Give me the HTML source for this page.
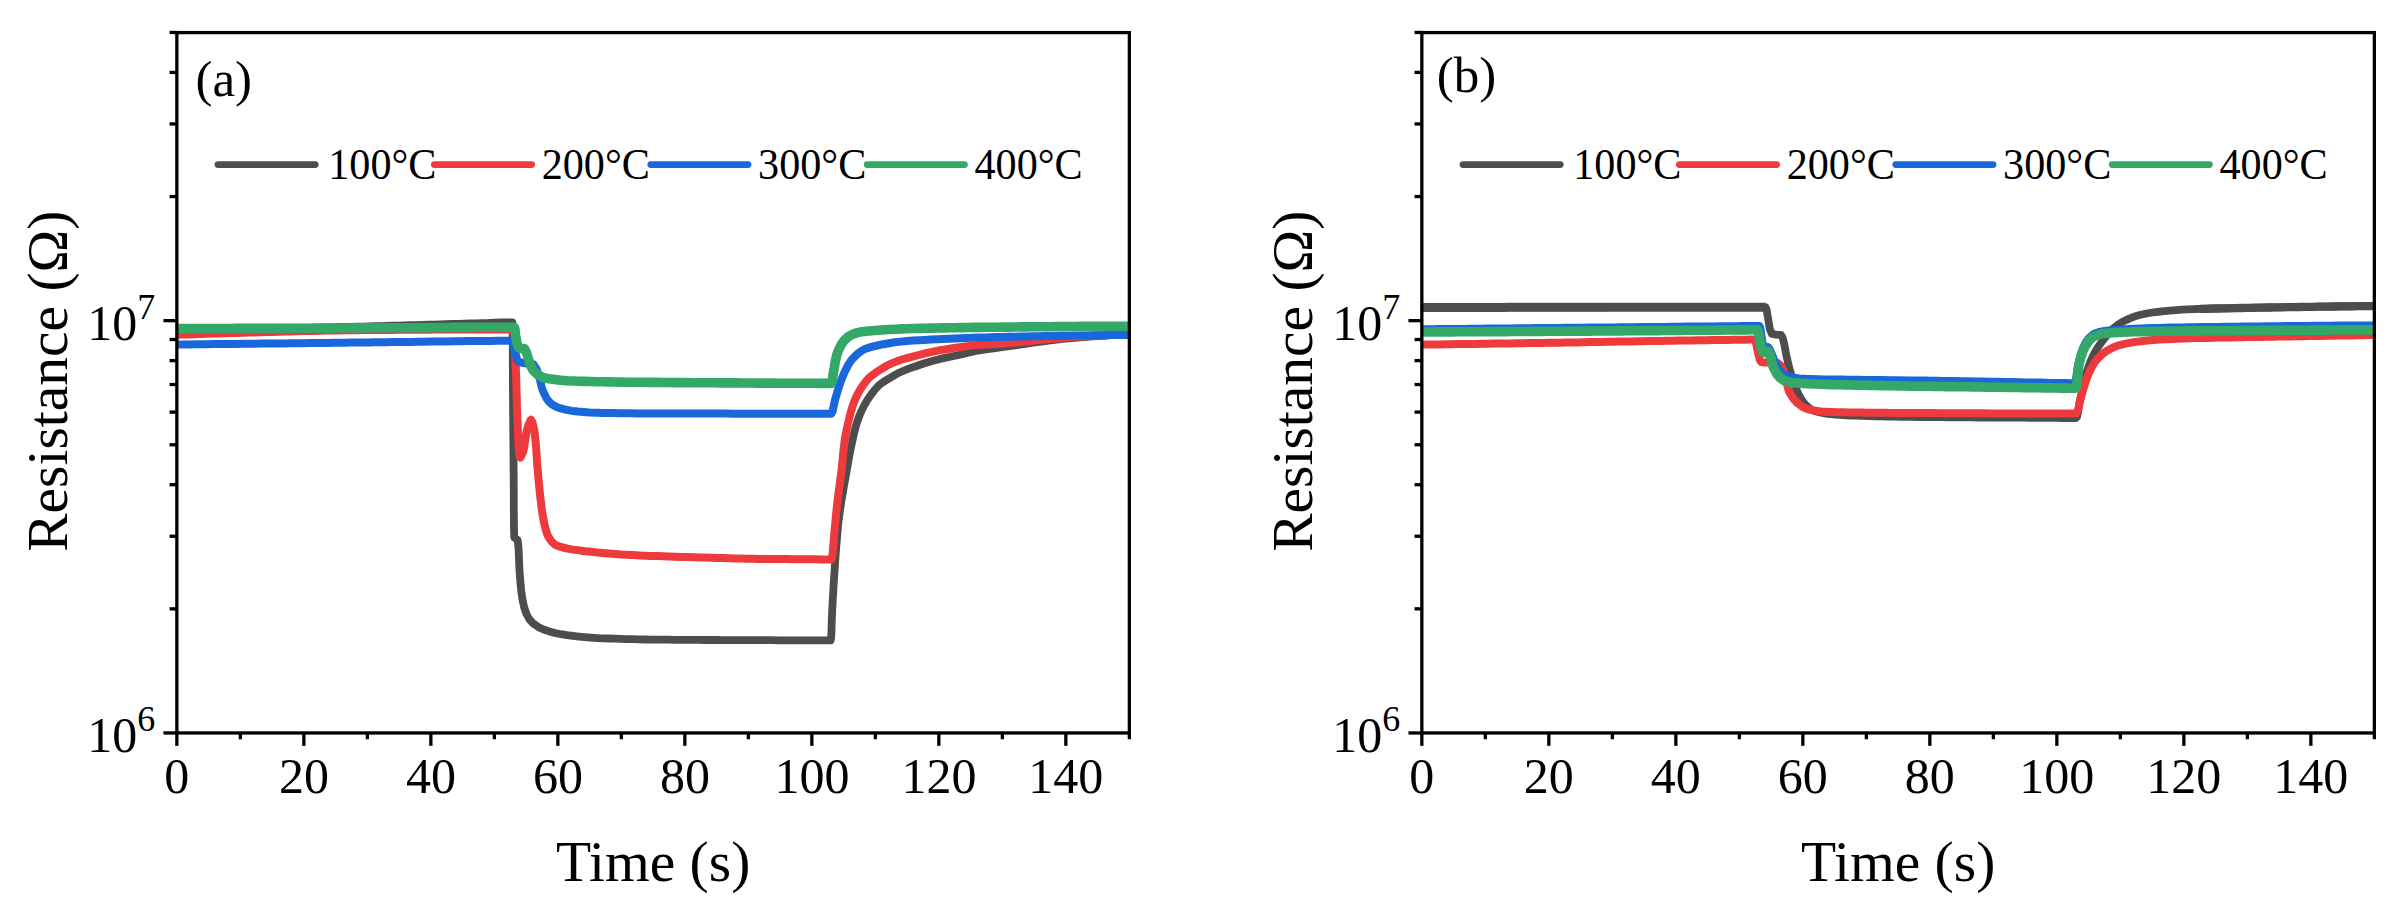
<!DOCTYPE html>
<html lang="en"><head><meta charset="utf-8"><title>Resistance vs Time</title>
<style>html,body{margin:0;padding:0;background:#fff}svg{display:block}</style></head>
<body>
<svg width="2403" height="920" viewBox="0 0 2403 920" font-family="'Liberation Serif', serif" fill="#000">
<rect width="2403" height="920" fill="#fff"/>
<clipPath id="ca"><rect x="176.85" y="32.6" width="952.4999999999999" height="700.35"/></clipPath>
<g clip-path="url(#ca)" fill="none" stroke-linejoin="round" stroke-linecap="butt">
<path d="M177.0,331.0 L183.0,330.9 L189.0,330.7 L195.0,330.6 L201.0,330.5 L206.9,330.4 L212.9,330.2 L218.9,330.1 L224.9,330.0 L230.9,329.8 L236.9,329.7 L242.9,329.5 L248.9,329.4 L254.8,329.3 L260.8,329.1 L266.8,329.0 L272.8,328.8 L278.8,328.7 L284.8,328.5 L290.8,328.4 L296.8,328.3 L302.7,328.1 L308.7,328.0 L314.7,327.8 L320.7,327.7 L326.7,327.5 L327.0,327.5 L332.7,327.4 L338.7,327.2 L344.7,327.0 L350.7,326.9 L356.6,326.7 L362.6,326.6 L368.6,326.4 L374.6,326.2 L380.6,326.1 L386.6,325.9 L392.6,325.7 L398.6,325.6 L404.5,325.4 L410.5,325.2 L416.5,325.1 L422.5,324.9 L428.5,324.7 L434.5,324.6 L440.0,324.4 L440.5,324.4 L446.4,324.2 L452.4,324.0 L458.4,323.9 L464.4,323.7 L470.4,323.5 L476.4,323.3 L482.4,323.1 L488.4,323.0 L490.0,322.9 L494.3,322.7 L500.3,322.5 L505.0,322.4 L506.5,322.4 L512.3,322.4 L512.3,322.4 L512.4,323.3 L512.5,325.8 L512.6,329.8 L512.7,334.9 L512.7,341.1 L512.8,348.0 L512.8,355.5 L512.8,363.3 L512.9,371.3 L512.9,379.2 L512.9,386.8 L513.0,393.9 L513.0,400.0 L513.0,400.3 L513.1,406.3 L513.1,412.2 L513.2,418.2 L513.2,424.2 L513.3,430.2 L513.3,436.2 L513.4,442.2 L513.4,448.2 L513.5,454.2 L513.5,460.2 L513.6,466.2 L513.6,472.1 L513.7,478.1 L513.7,480.0 L513.7,484.2 L513.8,490.5 L513.8,496.9 L513.8,503.4 L513.8,509.8 L513.9,516.1 L513.9,522.1 L514.0,527.8 L514.1,533.1 L514.2,537.0 L514.6,537.7 L517.6,540.0 L517.9,542.0 L518.5,547.4 L518.8,553.4 L519.0,559.8 L519.3,566.2 L519.6,572.0 L519.6,572.4 L520.1,578.4 L520.6,584.4 L521.2,590.4 L522.0,596.3 L522.8,601.3 L523.0,602.1 L524.4,608.1 L526.5,614.0 L529.2,619.0 L529.3,619.2 L533.0,623.3 L538.2,626.9 L542.4,629.0 L543.6,629.5 L549.2,631.4 L555.0,633.0 L561.0,634.2 L565.2,634.9 L566.9,635.2 L572.9,635.9 L578.8,636.6 L584.8,637.2 L590.8,637.7 L596.8,638.1 L597.8,638.1 L602.8,638.3 L608.7,638.5 L614.7,638.7 L620.7,638.9 L626.7,639.1 L632.7,639.2 L638.7,639.4 L644.7,639.5 L650.7,639.6 L656.6,639.6 L662.6,639.7 L663.0,639.7 L668.6,639.7 L674.6,639.8 L680.6,639.8 L686.6,639.9 L692.6,639.9 L698.6,639.9 L704.6,640.0 L710.6,640.0 L716.5,640.0 L722.5,640.1 L728.5,640.1 L734.5,640.1 L740.5,640.1 L746.5,640.2 L752.5,640.2 L758.5,640.2 L760.0,640.2 L764.7,640.2 L771.7,640.2 L779.1,640.3 L786.9,640.3 L794.6,640.3 L802.2,640.3 L809.4,640.3 L815.9,640.4 L821.5,640.4 L826.0,640.4 L829.1,640.4 L830.6,640.4 L830.6,640.4 L831.0,638.4 L831.4,633.1 L831.6,625.8 L831.9,617.9 L832.2,610.8 L832.2,610.0 L832.5,604.8 L832.8,598.8 L833.2,592.8 L833.5,586.8 L833.9,580.8 L834.3,574.9 L834.4,573.3 L834.7,568.9 L835.1,562.9 L835.5,556.9 L835.9,551.0 L836.4,545.0 L836.9,539.0 L837.4,533.0 L837.9,527.1 L838.5,521.6 L838.6,521.1 L839.3,515.2 L840.1,509.3 L841.0,503.3 L842.0,497.4 L843.0,491.5 L844.0,485.6 L845.1,479.7 L846.2,473.8 L846.3,473.0 L847.2,467.9 L848.2,462.0 L849.3,456.1 L850.4,450.2 L851.6,444.4 L852.9,438.5 L853.1,437.5 L854.2,432.7 L855.7,426.8 L857.4,421.1 L857.6,420.5 L859.5,415.5 L861.9,410.0 L864.2,405.5 L864.6,404.7 L867.7,399.5 L870.7,395.1 L871.1,394.6 L874.7,389.8 L878.8,385.4 L879.0,385.2 L883.5,381.8 L888.7,378.7 L890.3,377.7 L893.8,375.6 L899.1,372.7 L899.1,372.7 L904.5,370.3 L910.1,368.2 L915.8,366.2 L918.7,365.2 L921.5,364.3 L927.2,362.5 L933.0,360.8 L938.2,359.4 L938.8,359.3 L944.6,357.9 L950.5,356.7 L956.3,355.5 L957.8,355.2 L962.2,354.2 L968.0,352.7 L973.8,351.4 L977.4,350.7 L979.7,350.3 L985.6,349.4 L991.6,348.6 L997.5,347.8 L1000.0,347.5 L1003.4,347.0 L1009.4,346.2 L1015.3,345.3 L1021.2,344.4 L1027.2,343.6 L1033.1,342.7 L1039.0,341.9 L1045.0,341.1 L1050.0,340.5 L1050.9,340.4 L1056.8,339.7 L1062.8,339.0 L1068.8,338.4 L1074.7,337.8 L1080.0,337.3 L1080.7,337.2 L1086.7,336.8 L1092.6,336.3 L1098.6,335.9 L1100.0,335.8 L1104.6,335.5 L1110.6,335.1 L1116.5,334.8 L1122.5,334.5 L1128.5,334.2" stroke="#4d4d4d" stroke-width="7.8"/>
<path d="M177.0,334.8 L183.0,334.6 L189.0,334.4 L194.9,334.2 L200.9,334.0 L206.9,333.8 L212.9,333.6 L218.9,333.5 L224.9,333.3 L230.8,333.1 L236.8,332.9 L242.8,332.8 L248.8,332.6 L254.8,332.4 L260.0,332.3 L260.8,332.3 L266.7,332.1 L272.7,332.0 L278.7,331.8 L284.7,331.6 L290.7,331.5 L296.7,331.3 L302.6,331.1 L308.6,331.0 L314.6,330.9 L320.6,330.7 L326.6,330.6 L332.6,330.5 L338.5,330.4 L340.0,330.4 L344.5,330.3 L350.5,330.3 L356.5,330.2 L362.5,330.1 L368.5,330.1 L374.4,330.0 L380.4,330.0 L386.4,329.9 L392.4,329.9 L398.4,329.8 L404.4,329.8 L410.4,329.8 L416.3,329.7 L420.0,329.7 L422.4,329.7 L428.9,329.7 L435.9,329.6 L443.4,329.6 L451.0,329.6 L458.8,329.6 L466.5,329.5 L474.1,329.5 L481.4,329.5 L488.2,329.5 L494.5,329.4 L500.2,329.4 L505.0,329.4 L508.9,329.4 L511.7,329.4 L513.3,329.4 L513.5,329.4 L513.9,330.7 L514.4,335.4 L514.8,342.4 L515.1,350.3 L515.4,357.7 L515.5,360.0 L515.7,363.8 L515.9,369.8 L516.1,375.8 L516.3,381.8 L516.4,387.8 L516.6,393.8 L516.8,399.7 L516.9,405.7 L517.1,411.7 L517.4,417.7 L517.5,420.0 L517.7,424.0 L517.9,431.5 L518.2,439.4 L518.6,446.8 L519.1,452.9 L519.7,456.7 L520.3,457.5 L521.0,456.6 L523.0,452.0 L523.5,450.3 L524.6,444.4 L525.4,438.4 L526.4,432.5 L527.0,430.0 L528.1,426.1 L530.5,420.2 L531.0,419.8 L532.4,422.2 L534.1,429.5 L534.5,432.0 L535.0,435.6 L535.6,441.5 L536.1,447.5 L536.5,453.5 L536.9,459.5 L537.3,465.5 L537.5,467.6 L537.9,471.5 L538.4,477.4 L538.9,483.4 L539.5,489.4 L540.1,495.3 L540.8,501.3 L541.5,507.2 L542.4,513.1 L542.4,513.2 L543.4,519.1 L544.6,525.1 L546.1,530.9 L547.3,534.4 L548.1,536.3 L551.6,541.6 L555.4,544.9 L556.0,545.2 L561.7,547.2 L565.0,548.0 L567.6,548.6 L573.5,549.6 L579.5,550.4 L581.5,550.7 L585.4,551.2 L591.3,551.8 L597.3,552.4 L603.3,553.0 L609.2,553.6 L615.2,554.0 L621.2,554.5 L627.1,554.8 L630.4,555.0 L633.1,555.1 L639.1,555.4 L645.1,555.7 L651.0,555.9 L657.0,556.1 L663.0,556.3 L669.0,556.5 L675.0,556.7 L681.0,556.9 L686.9,557.1 L692.9,557.2 L695.6,557.3 L698.9,557.4 L704.9,557.6 L710.9,557.8 L716.9,557.9 L722.8,558.1 L728.8,558.3 L734.8,558.4 L740.8,558.6 L746.8,558.7 L752.8,558.8 L758.7,558.9 L760.8,558.9 L764.9,558.9 L771.7,559.0 L779.0,559.1 L786.5,559.1 L794.1,559.2 L801.5,559.2 L808.6,559.3 L815.1,559.3 L820.8,559.4 L825.5,559.4 L829.0,559.4 L831.1,559.4 L831.2,559.4 L832.1,557.5 L832.8,552.1 L833.4,544.6 L834.0,536.8 L834.4,532.0 L834.6,530.3 L835.2,524.4 L835.7,518.4 L836.3,512.4 L836.9,506.5 L837.5,501.0 L837.6,500.5 L838.3,494.6 L839.1,488.7 L839.9,482.7 L840.7,476.8 L841.5,470.9 L841.6,470.0 L842.1,464.9 L842.7,458.9 L843.2,453.0 L843.9,447.0 L844.6,441.1 L844.6,441.0 L845.5,435.2 L846.7,429.3 L848.0,423.5 L849.4,417.6 L849.8,416.0 L850.9,411.8 L852.6,406.1 L854.7,400.5 L855.0,399.6 L857.1,395.0 L860.1,389.8 L861.5,387.6 L863.4,384.8 L867.1,380.0 L869.4,377.5 L871.2,375.9 L876.1,372.4 L879.0,370.5 L881.2,369.1 L886.3,366.0 L890.3,364.0 L891.7,363.4 L897.3,361.1 L899.1,360.5 L902.9,359.3 L908.7,357.6 L914.5,356.1 L918.7,355.0 L920.3,354.6 L926.1,353.1 L931.9,351.8 L937.8,350.6 L938.2,350.5 L943.7,349.6 L949.6,348.7 L955.5,347.8 L957.8,347.5 L961.5,347.0 L967.4,346.1 L973.3,345.4 L977.4,345.0 L979.3,344.9 L985.2,344.5 L991.2,344.3 L997.2,344.0 L1000.0,343.8 L1003.2,343.6 L1009.1,343.1 L1015.1,342.5 L1021.1,341.9 L1027.0,341.3 L1033.0,340.7 L1038.9,340.1 L1044.9,339.5 L1050.0,339.0 L1050.8,338.9 L1056.8,338.4 L1062.8,337.9 L1068.7,337.4 L1074.7,337.0 L1080.0,336.6 L1080.7,336.6 L1086.6,336.2 L1092.6,335.8 L1098.6,335.5 L1100.0,335.4 L1104.6,335.2 L1110.6,335.0 L1116.5,334.7 L1122.5,334.5 L1128.5,334.4" stroke="#ee3a3c" stroke-width="8"/>
<path d="M177.0,344.5 L183.0,344.4 L189.0,344.4 L195.0,344.3 L201.0,344.3 L207.0,344.2 L213.0,344.1 L218.9,344.1 L224.9,344.0 L230.9,344.0 L236.9,343.9 L242.9,343.8 L248.9,343.8 L254.9,343.7 L260.9,343.6 L266.9,343.6 L272.9,343.5 L278.9,343.4 L284.9,343.4 L290.8,343.3 L296.8,343.2 L300.0,343.2 L302.8,343.2 L308.8,343.1 L314.8,343.0 L320.8,343.0 L326.8,342.9 L332.8,342.8 L338.8,342.7 L344.8,342.7 L350.8,342.6 L356.8,342.5 L362.7,342.5 L368.7,342.4 L374.7,342.3 L380.7,342.2 L386.7,342.2 L392.7,342.1 L398.7,342.0 L400.0,342.0 L404.8,341.9 L411.2,341.9 L417.9,341.8 L424.8,341.7 L431.9,341.6 L439.0,341.5 L446.2,341.4 L453.3,341.3 L460.4,341.2 L467.3,341.1 L473.9,341.1 L480.3,341.0 L486.3,340.9 L492.0,340.9 L497.1,340.8 L501.8,340.8 L505.8,340.7 L509.2,340.7 L511.5,340.7 L511.9,340.9 L513.7,346.9 L514.5,350.0 L515.4,353.4 L517.2,359.7 L518.5,361.5 L521.0,362.5 L525.0,363.3 L527.4,363.5 L533.0,364.0 L533.2,364.1 L536.4,368.7 L538.0,373.0 L538.6,374.8 L540.1,380.6 L541.5,386.5 L542.4,389.3 L543.5,392.2 L546.1,397.6 L547.0,399.0 L549.7,402.4 L552.2,404.5 L554.5,405.9 L558.0,407.5 L560.1,408.2 L565.2,409.6 L565.9,409.7 L571.8,410.9 L575.0,411.3 L577.7,411.6 L583.7,412.1 L589.7,412.5 L595.7,412.7 L597.8,412.8 L601.6,412.9 L607.6,413.0 L613.6,413.1 L619.6,413.2 L625.6,413.2 L631.6,413.3 L637.6,413.4 L643.6,413.4 L649.6,413.5 L655.6,413.5 L661.6,413.5 L667.6,413.6 L673.5,413.6 L679.5,413.6 L680.0,413.6 L685.7,413.6 L692.0,413.6 L698.7,413.6 L705.5,413.6 L712.5,413.6 L719.6,413.6 L726.8,413.6 L734.0,413.7 L741.3,413.7 L748.6,413.7 L755.7,413.7 L762.9,413.7 L769.8,413.7 L776.7,413.7 L783.3,413.7 L789.7,413.7 L795.8,413.7 L801.6,413.7 L807.0,413.7 L812.1,413.7 L816.8,413.7 L821.0,413.7 L824.7,413.7 L827.9,413.7 L830.6,413.7 L831.3,413.7 L832.5,411.7 L834.0,404.6 L834.8,400.9 L835.5,398.3 L837.2,392.5 L838.9,386.7 L839.4,385.3 L840.9,381.1 L843.1,375.5 L844.6,372.2 L845.6,370.1 L848.4,364.7 L851.1,360.5 L851.7,359.8 L855.8,355.4 L857.6,353.9 L860.5,351.6 L864.2,349.4 L865.7,348.8 L871.4,346.9 L877.2,345.5 L877.3,345.5 L883.1,344.2 L889.1,343.2 L890.3,343.0 L895.0,342.3 L900.9,341.6 L905.0,341.2 L906.9,341.0 L912.9,340.6 L918.8,340.2 L924.8,339.9 L930.8,339.6 L936.8,339.3 L938.2,339.2 L942.8,339.0 L948.8,338.7 L954.8,338.4 L960.8,338.2 L966.7,338.0 L972.7,337.7 L977.4,337.6 L978.7,337.6 L984.7,337.4 L990.7,337.2 L996.7,337.1 L1002.7,336.9 L1008.7,336.8 L1014.7,336.7 L1020.7,336.5 L1026.6,336.4 L1032.6,336.3 L1038.6,336.2 L1044.6,336.1 L1050.0,336.0 L1050.6,336.0 L1056.6,335.9 L1062.6,335.8 L1068.6,335.7 L1074.6,335.6 L1080.6,335.5 L1086.6,335.4 L1092.5,335.3 L1098.5,335.2 L1104.5,335.2 L1110.5,335.1 L1116.5,335.0 L1122.5,335.0 L1128.5,334.9" stroke="#1868dc" stroke-width="8"/>
<path d="M177.0,328.6 L183.0,328.6 L188.9,328.6 L194.9,328.6 L200.9,328.5 L206.8,328.5 L212.8,328.5 L218.8,328.5 L224.7,328.5 L230.7,328.5 L236.7,328.4 L242.6,328.4 L248.6,328.4 L254.6,328.4 L260.5,328.3 L266.5,328.3 L272.5,328.3 L278.4,328.3 L284.4,328.3 L290.4,328.2 L296.4,328.2 L300.0,328.2 L302.3,328.2 L308.3,328.2 L314.3,328.1 L320.2,328.1 L326.2,328.1 L332.2,328.1 L338.1,328.0 L344.1,328.0 L350.1,328.0 L356.0,327.9 L362.0,327.9 L368.0,327.9 L373.9,327.8 L379.9,327.8 L385.9,327.8 L391.8,327.7 L397.8,327.7 L400.0,327.7 L403.9,327.7 L410.3,327.7 L417.1,327.6 L424.2,327.6 L431.5,327.6 L438.9,327.5 L446.4,327.5 L453.9,327.4 L461.3,327.4 L468.5,327.4 L475.4,327.3 L482.1,327.3 L488.3,327.3 L494.1,327.3 L499.3,327.2 L503.9,327.2 L507.9,327.2 L511.0,327.2 L513.4,327.2 L514.2,327.2 L514.8,328.6 L515.6,335.7 L516.0,338.0 L516.7,342.3 L518.5,347.5 L518.5,347.5 L521.0,348.5 L524.4,348.5 L524.4,348.5 L526.7,353.1 L528.0,358.0 L528.6,359.6 L530.6,365.4 L532.6,369.5 L533.3,370.5 L537.8,374.6 L540.0,376.0 L543.0,377.4 L546.0,378.3 L548.8,378.8 L554.8,379.6 L555.0,379.6 L560.7,380.2 L566.7,380.7 L572.6,381.0 L573.0,381.0 L578.6,381.2 L584.5,381.4 L590.5,381.5 L596.5,381.7 L602.4,381.8 L608.4,381.9 L614.4,382.0 L620.4,382.1 L626.3,382.2 L630.0,382.2 L632.3,382.2 L638.3,382.3 L644.2,382.3 L650.2,382.4 L656.2,382.4 L662.1,382.5 L668.1,382.5 L674.1,382.6 L680.0,382.6 L680.0,382.6 L686.2,382.6 L692.6,382.7 L699.3,382.7 L706.2,382.8 L713.3,382.8 L720.6,382.9 L727.9,382.9 L735.3,382.9 L742.7,383.0 L750.1,383.0 L757.4,383.1 L764.7,383.1 L771.7,383.1 L778.6,383.2 L785.3,383.2 L791.7,383.2 L797.8,383.3 L803.6,383.3 L808.9,383.3 L813.9,383.3 L818.3,383.4 L822.3,383.4 L825.7,383.4 L828.5,383.4 L830.7,383.4 L831.3,383.4 L832.2,381.2 L833.2,373.9 L833.5,372.2 L834.3,367.8 L835.2,361.9 L836.5,356.1 L836.7,355.2 L838.4,350.5 L841.0,345.1 L842.0,343.5 L844.5,340.2 L848.5,336.5 L848.9,336.2 L854.3,333.6 L857.6,332.6 L860.1,332.1 L865.9,331.3 L871.9,330.7 L877.2,330.3 L877.9,330.2 L883.9,329.8 L889.8,329.5 L895.8,329.2 L901.8,328.9 L905.0,328.8 L907.7,328.7 L913.7,328.5 L919.6,328.4 L925.6,328.2 L931.6,328.1 L937.5,328.0 L943.5,327.9 L949.5,327.8 L955.4,327.7 L961.4,327.6 L967.4,327.5 L973.3,327.4 L977.4,327.4 L979.3,327.4 L985.3,327.3 L991.2,327.2 L997.2,327.2 L1003.2,327.1 L1009.1,327.1 L1015.1,327.0 L1021.1,326.9 L1027.1,326.9 L1033.0,326.8 L1039.0,326.8 L1045.0,326.7 L1050.9,326.7 L1056.9,326.6 L1062.9,326.6 L1068.8,326.5 L1074.8,326.5 L1080.8,326.4 L1086.7,326.4 L1092.7,326.4 L1098.7,326.4 L1104.6,326.3 L1110.6,326.3 L1116.6,326.3 L1122.5,326.3 L1128.5,326.3" stroke="#33a867" stroke-width="9.6"/>
</g>
<rect x="176.85" y="32.6" width="952.4999999999999" height="700.35" fill="none" stroke="#000" stroke-width="3.3"/>
<line x1="176.85" y1="732.95" x2="176.85" y2="745.85" stroke="#000" stroke-width="3.3"/>
<line x1="240.35" y1="732.95" x2="240.35" y2="739.25" stroke="#000" stroke-width="3.3"/>
<line x1="303.85" y1="732.95" x2="303.85" y2="745.85" stroke="#000" stroke-width="3.3"/>
<line x1="367.35" y1="732.95" x2="367.35" y2="739.25" stroke="#000" stroke-width="3.3"/>
<line x1="430.85" y1="732.95" x2="430.85" y2="745.85" stroke="#000" stroke-width="3.3"/>
<line x1="494.35" y1="732.95" x2="494.35" y2="739.25" stroke="#000" stroke-width="3.3"/>
<line x1="557.85" y1="732.95" x2="557.85" y2="745.85" stroke="#000" stroke-width="3.3"/>
<line x1="621.35" y1="732.95" x2="621.35" y2="739.25" stroke="#000" stroke-width="3.3"/>
<line x1="684.85" y1="732.95" x2="684.85" y2="745.85" stroke="#000" stroke-width="3.3"/>
<line x1="748.35" y1="732.95" x2="748.35" y2="739.25" stroke="#000" stroke-width="3.3"/>
<line x1="811.85" y1="732.95" x2="811.85" y2="745.85" stroke="#000" stroke-width="3.3"/>
<line x1="875.35" y1="732.95" x2="875.35" y2="739.25" stroke="#000" stroke-width="3.3"/>
<line x1="938.85" y1="732.95" x2="938.85" y2="745.85" stroke="#000" stroke-width="3.3"/>
<line x1="1002.35" y1="732.95" x2="1002.35" y2="739.25" stroke="#000" stroke-width="3.3"/>
<line x1="1065.85" y1="732.95" x2="1065.85" y2="745.85" stroke="#000" stroke-width="3.3"/>
<line x1="1129.35" y1="732.95" x2="1129.35" y2="739.25" stroke="#000" stroke-width="3.3"/>
<line x1="176.85" y1="732.95" x2="163.45" y2="732.95" stroke="#000" stroke-width="3.3"/>
<line x1="176.85" y1="608.84" x2="169.54999999999998" y2="608.84" stroke="#000" stroke-width="3.3"/>
<line x1="176.85" y1="536.23" x2="169.54999999999998" y2="536.23" stroke="#000" stroke-width="3.3"/>
<line x1="176.85" y1="484.72" x2="169.54999999999998" y2="484.72" stroke="#000" stroke-width="3.3"/>
<line x1="176.85" y1="444.76" x2="169.54999999999998" y2="444.76" stroke="#000" stroke-width="3.3"/>
<line x1="176.85" y1="412.12" x2="169.54999999999998" y2="412.12" stroke="#000" stroke-width="3.3"/>
<line x1="176.85" y1="384.52" x2="169.54999999999998" y2="384.52" stroke="#000" stroke-width="3.3"/>
<line x1="176.85" y1="360.61" x2="169.54999999999998" y2="360.61" stroke="#000" stroke-width="3.3"/>
<line x1="176.85" y1="339.52" x2="169.54999999999998" y2="339.52" stroke="#000" stroke-width="3.3"/>
<line x1="176.85" y1="320.65" x2="163.45" y2="320.65" stroke="#000" stroke-width="3.3"/>
<line x1="176.85" y1="196.54" x2="169.54999999999998" y2="196.54" stroke="#000" stroke-width="3.3"/>
<line x1="176.85" y1="123.93" x2="169.54999999999998" y2="123.93" stroke="#000" stroke-width="3.3"/>
<line x1="176.85" y1="72.42" x2="169.54999999999998" y2="72.42" stroke="#000" stroke-width="3.3"/>
<line x1="176.85" y1="32.46" x2="169.54999999999998" y2="32.46" stroke="#000" stroke-width="3.3"/>
<text x="176.8" y="793.3" font-size="50" text-anchor="middle">0</text>
<text x="303.9" y="793.3" font-size="50" text-anchor="middle">20</text>
<text x="430.9" y="793.3" font-size="50" text-anchor="middle">40</text>
<text x="557.9" y="793.3" font-size="50" text-anchor="middle">60</text>
<text x="684.9" y="793.3" font-size="50" text-anchor="middle">80</text>
<text x="811.9" y="793.3" font-size="50" text-anchor="middle">100</text>
<text x="938.9" y="793.3" font-size="50" text-anchor="middle">120</text>
<text x="1065.8" y="793.3" font-size="50" text-anchor="middle">140</text>
<text x="87.3" y="339.9" font-size="50">10<tspan font-size="36" dy="-21.2">7</tspan></text>
<text x="87.3" y="752.2" font-size="50">10<tspan font-size="36" dy="-21.2">6</tspan></text>
<text x="653.1" y="880.6" font-size="57.5" text-anchor="middle">Time (s)</text>
<text transform="translate(67.4,381.2) rotate(-90)" font-size="57.5" text-anchor="middle">Resistance (Ω)</text>
<text x="195.5" y="95.6" font-size="51">(a)</text>
<line x1="218.0" y1="164.6" x2="315.2" y2="164.6" stroke="#4d4d4d" stroke-width="6.8" stroke-linecap="round"/>
<text transform="translate(328.3,179.3) scale(0.9475,1)" font-size="44.5">100°C</text>
<line x1="434.4" y1="164.6" x2="531.6" y2="164.6" stroke="#ee3a3c" stroke-width="6.8" stroke-linecap="round"/>
<text transform="translate(541.7,179.3) scale(0.9475,1)" font-size="44.5">200°C</text>
<line x1="650.8" y1="164.6" x2="748.0" y2="164.6" stroke="#1868dc" stroke-width="6.8" stroke-linecap="round"/>
<text transform="translate(758.1,179.3) scale(0.9475,1)" font-size="44.5">300°C</text>
<line x1="867.2" y1="164.6" x2="964.4" y2="164.6" stroke="#33a867" stroke-width="6.8" stroke-linecap="round"/>
<text transform="translate(974.5,179.3) scale(0.9475,1)" font-size="44.5">400°C</text>
<clipPath id="cb"><rect x="1421.85" y="32.6" width="952.5" height="700.35"/></clipPath>
<g clip-path="url(#cb)" fill="none" stroke-linejoin="round" stroke-linecap="butt">
<path d="M1422.0,307.4 L1432.4,307.4 L1442.6,307.4 L1452.7,307.4 L1462.6,307.4 L1472.4,307.4 L1481.9,307.3 L1491.3,307.3 L1500.6,307.3 L1509.6,307.3 L1518.6,307.3 L1527.3,307.3 L1535.9,307.3 L1544.3,307.3 L1552.6,307.3 L1560.7,307.3 L1568.7,307.3 L1576.4,307.3 L1584.1,307.3 L1591.5,307.3 L1598.9,307.3 L1606.0,307.3 L1613.0,307.2 L1619.9,307.2 L1626.6,307.2 L1633.1,307.2 L1639.5,307.2 L1645.7,307.2 L1651.8,307.2 L1657.7,307.2 L1663.5,307.2 L1669.1,307.2 L1674.6,307.2 L1680.0,307.2 L1685.1,307.2 L1690.2,307.2 L1695.1,307.2 L1699.8,307.2 L1704.4,307.2 L1708.9,307.2 L1713.2,307.2 L1717.3,307.2 L1721.4,307.2 L1725.2,307.2 L1729.0,307.2 L1732.6,307.2 L1736.0,307.2 L1739.3,307.2 L1742.5,307.2 L1745.5,307.2 L1748.4,307.2 L1751.2,307.2 L1753.8,307.2 L1756.3,307.2 L1758.7,307.2 L1760.9,307.2 L1763.0,307.2 L1764.9,307.2 L1765.5,307.2 L1766.6,309.6 L1767.8,317.0 L1768.0,318.0 L1768.8,323.0 L1769.8,328.9 L1769.8,329.0 L1771.8,333.8 L1772.3,334.0 L1776.0,334.6 L1778.6,334.8 L1781.0,335.0 L1782.5,337.5 L1783.5,341.0 L1784.2,343.8 L1785.3,349.7 L1785.7,352.0 L1786.4,355.6 L1787.7,361.4 L1788.9,366.6 L1789.1,367.3 L1790.7,373.0 L1792.2,378.0 L1792.4,378.8 L1794.4,384.5 L1796.6,390.0 L1797.0,391.0 L1799.2,395.5 L1802.2,400.7 L1803.6,402.5 L1806.0,405.3 L1810.7,409.2 L1811.7,409.8 L1816.1,411.4 L1820.0,412.4 L1822.0,412.8 L1827.9,413.8 L1833.9,414.5 L1834.8,414.6 L1839.8,414.9 L1845.8,415.3 L1851.8,415.5 L1857.8,415.7 L1860.0,415.8 L1863.8,415.9 L1869.8,416.1 L1875.8,416.3 L1881.8,416.4 L1887.8,416.6 L1893.8,416.7 L1899.8,416.8 L1900.0,416.8 L1905.7,416.9 L1911.7,416.9 L1917.7,417.0 L1923.7,417.1 L1929.7,417.1 L1935.7,417.2 L1941.7,417.2 L1947.7,417.3 L1953.7,417.3 L1959.7,417.4 L1965.7,417.4 L1971.7,417.4 L1977.7,417.5 L1983.7,417.5 L1989.7,417.5 L1995.6,417.6 L2000.0,417.6 L2001.7,417.6 L2008.1,417.7 L2015.0,417.7 L2022.2,417.7 L2029.5,417.8 L2036.9,417.8 L2044.0,417.9 L2050.9,417.9 L2057.3,417.9 L2063.1,418.0 L2068.1,418.0 L2072.1,418.0 L2075.1,418.0 L2076.0,418.0 L2077.0,416.8 L2078.3,410.8 L2079.4,403.2 L2080.0,400.0 L2080.7,397.0 L2081.9,391.1 L2083.2,385.2 L2084.6,379.4 L2085.0,377.8 L2086.2,373.7 L2088.1,367.9 L2090.2,362.3 L2092.6,356.8 L2092.8,356.3 L2095.3,351.5 L2098.5,346.4 L2102.0,341.5 L2102.6,340.7 L2105.7,336.8 L2109.7,332.1 L2114.0,327.8 L2118.3,324.5 L2118.6,324.3 L2123.7,321.2 L2129.2,318.6 L2134.9,316.4 L2137.8,315.5 L2140.6,314.8 L2146.4,313.5 L2152.4,312.5 L2157.4,311.9 L2158.3,311.8 L2164.3,311.2 L2170.3,310.6 L2176.2,310.1 L2182.2,309.7 L2188.2,309.4 L2194.2,309.1 L2196.5,309.0 L2200.2,308.9 L2206.2,308.7 L2212.2,308.5 L2218.2,308.4 L2224.2,308.3 L2230.2,308.1 L2236.1,308.0 L2242.1,307.9 L2248.1,307.8 L2254.1,307.7 L2260.1,307.6 L2266.1,307.5 L2272.1,307.4 L2274.8,307.4 L2278.1,307.3 L2284.1,307.2 L2290.1,307.1 L2296.1,307.1 L2302.1,307.0 L2308.1,306.9 L2314.1,306.8 L2320.1,306.7 L2326.1,306.6 L2332.0,306.5 L2338.0,306.4 L2344.0,306.4 L2350.0,306.3 L2356.0,306.2 L2362.0,306.1 L2368.0,306.1 L2374.0,306.0" stroke="#4d4d4d" stroke-width="7.8"/>
<path d="M1420.0,307.4 L1426.0,307.4 L1431.9,307.4 L1437.9,307.4 L1443.8,307.4 L1449.8,307.4 L1455.7,307.4 L1461.7,307.4 L1467.7,307.4 L1473.6,307.4 L1479.6,307.4 L1485.5,307.4 L1491.5,307.4 L1497.4,307.4 L1503.4,307.4 L1509.4,307.3 L1515.3,307.3 L1521.3,307.3 L1527.2,307.3 L1533.2,307.3 L1539.1,307.3 L1545.1,307.3 L1551.1,307.3 L1557.0,307.3 L1563.0,307.3 L1568.9,307.3 L1574.9,307.3 L1580.8,307.3 L1586.8,307.3 L1592.8,307.3 L1598.7,307.3 L1604.7,307.3 L1610.6,307.3 L1616.6,307.3 L1622.5,307.3 L1628.5,307.3 L1634.4,307.3 L1640.4,307.3 L1646.4,307.3 L1652.3,307.3 L1658.3,307.3 L1664.2,307.3 L1670.2,307.3 L1676.1,307.3 L1682.1,307.2 L1688.1,307.2 L1694.0,307.2 L1700.0,307.2 L1705.9,307.2 L1711.9,307.2 L1717.8,307.2 L1723.8,307.2 L1729.8,307.2 L1735.7,307.2 L1741.7,307.2 L1747.6,307.2 L1753.6,307.2 L1759.5,307.2 L1765.5,307.2" stroke="#4d4d4d" stroke-width="9.0"/>
<path d="M2200.0,308.9 L2205.9,308.8 L2211.7,308.6 L2217.6,308.5 L2223.5,308.4 L2229.3,308.3 L2235.2,308.1 L2241.1,308.0 L2246.9,307.9 L2252.8,307.8 L2258.7,307.7 L2264.5,307.6 L2270.4,307.5 L2274.8,307.4 L2276.3,307.4 L2282.1,307.3 L2288.0,307.2 L2293.9,307.1 L2299.7,307.0 L2305.6,306.9 L2311.5,306.8 L2317.3,306.7 L2323.2,306.7 L2329.1,306.6 L2334.9,306.5 L2340.8,306.4 L2346.7,306.3 L2352.5,306.3 L2358.4,306.2 L2364.3,306.1 L2370.1,306.1 L2376.0,306.0" stroke="#4d4d4d" stroke-width="8.3"/>
<path d="M1422.0,344.6 L1428.0,344.5 L1433.9,344.4 L1439.9,344.4 L1445.9,344.3 L1451.9,344.2 L1457.8,344.1 L1463.8,344.1 L1469.8,344.0 L1475.7,343.9 L1481.7,343.8 L1487.7,343.7 L1493.6,343.6 L1499.6,343.5 L1505.6,343.5 L1511.6,343.4 L1517.5,343.3 L1523.5,343.2 L1529.5,343.1 L1535.4,343.0 L1541.4,342.9 L1547.4,342.8 L1550.0,342.8 L1553.4,342.7 L1559.3,342.7 L1565.3,342.6 L1571.3,342.5 L1577.2,342.4 L1583.2,342.3 L1589.2,342.1 L1595.1,342.0 L1601.1,341.9 L1607.1,341.8 L1613.1,341.7 L1619.0,341.6 L1625.0,341.5 L1631.0,341.4 L1636.9,341.3 L1642.9,341.2 L1648.9,341.1 L1654.8,341.0 L1660.8,340.9 L1666.8,340.8 L1672.8,340.7 L1678.7,340.6 L1680.0,340.6 L1684.9,340.5 L1691.5,340.4 L1698.5,340.3 L1705.7,340.2 L1713.0,340.1 L1720.1,340.0 L1727.1,339.9 L1733.6,339.8 L1739.6,339.7 L1744.9,339.7 L1749.4,339.6 L1752.9,339.6 L1754.8,339.6 L1755.3,340.0 L1756.7,346.2 L1757.5,350.0 L1758.2,353.0 L1759.7,359.7 L1761.2,362.0 L1763.0,362.4 L1766.0,362.6 L1769.3,362.4 L1773.0,362.2 L1775.3,362.4 L1777.5,363.0 L1780.3,365.2 L1782.4,368.3 L1783.3,370.4 L1785.0,376.2 L1785.5,378.0 L1786.5,382.0 L1787.9,387.9 L1788.9,391.0 L1790.0,393.4 L1793.3,398.5 L1795.4,400.9 L1797.3,402.8 L1802.1,406.6 L1805.2,408.2 L1807.5,409.0 L1813.0,410.4 L1813.3,410.5 L1819.2,411.3 L1821.5,411.5 L1825.2,411.7 L1831.1,411.9 L1837.1,412.2 L1843.1,412.3 L1849.1,412.4 L1855.0,412.5 L1860.0,412.6 L1861.0,412.6 L1867.0,412.7 L1873.0,412.7 L1878.9,412.8 L1884.9,412.8 L1890.9,412.9 L1896.8,412.9 L1902.8,413.0 L1908.8,413.0 L1914.8,413.0 L1920.7,413.1 L1926.7,413.1 L1932.7,413.1 L1938.6,413.2 L1944.6,413.2 L1950.0,413.2 L1950.6,413.2 L1956.7,413.2 L1963.2,413.3 L1969.9,413.3 L1976.8,413.3 L1983.8,413.3 L1990.9,413.4 L1998.1,413.4 L2005.2,413.4 L2012.3,413.4 L2019.3,413.5 L2026.2,413.5 L2032.8,413.5 L2039.2,413.5 L2045.4,413.5 L2051.2,413.6 L2056.5,413.6 L2061.5,413.6 L2066.0,413.6 L2069.9,413.6 L2073.3,413.6 L2076.0,413.6 L2076.0,413.6 L2078.0,410.3 L2079.6,403.2 L2081.0,397.4 L2081.3,396.5 L2082.9,390.7 L2084.6,385.0 L2086.4,379.3 L2087.0,377.8 L2088.6,373.8 L2091.2,368.3 L2094.2,363.1 L2094.8,362.2 L2097.8,358.5 L2102.2,354.3 L2104.6,352.4 L2106.9,350.8 L2112.2,347.9 L2117.8,345.6 L2118.3,345.5 L2123.5,344.1 L2129.4,342.9 L2135.3,341.9 L2137.8,341.6 L2141.2,341.2 L2147.2,340.5 L2153.1,340.0 L2157.4,339.7 L2159.1,339.6 L2165.1,339.3 L2171.0,339.0 L2177.0,338.7 L2183.0,338.5 L2188.9,338.3 L2194.9,338.1 L2196.5,338.1 L2200.9,338.0 L2206.8,337.9 L2212.8,337.7 L2218.8,337.6 L2224.7,337.5 L2230.7,337.4 L2236.7,337.3 L2242.7,337.2 L2248.6,337.1 L2254.6,337.0 L2260.6,336.9 L2266.5,336.8 L2272.5,336.7 L2274.8,336.7 L2278.5,336.6 L2284.4,336.5 L2290.4,336.4 L2296.4,336.3 L2302.4,336.2 L2308.3,336.1 L2314.3,336.0 L2320.3,335.9 L2326.2,335.8 L2332.2,335.7 L2338.2,335.6 L2344.1,335.5 L2350.1,335.4 L2356.1,335.3 L2362.1,335.2 L2368.0,335.1 L2374.0,335.0" stroke="#ee3a3c" stroke-width="8"/>
<path d="M1422.0,329.3 L1428.0,329.2 L1434.0,329.2 L1439.9,329.1 L1445.9,329.1 L1451.9,329.0 L1457.9,328.9 L1463.9,328.9 L1469.8,328.8 L1475.8,328.7 L1481.8,328.7 L1487.8,328.6 L1493.7,328.6 L1499.7,328.5 L1505.7,328.4 L1511.7,328.4 L1517.7,328.3 L1523.6,328.3 L1529.6,328.2 L1535.6,328.1 L1541.6,328.1 L1547.6,328.0 L1553.5,328.0 L1559.5,327.9 L1565.5,327.8 L1571.5,327.8 L1577.5,327.7 L1583.4,327.7 L1589.4,327.6 L1595.4,327.5 L1600.0,327.5 L1601.4,327.5 L1607.6,327.4 L1614.1,327.4 L1620.8,327.3 L1627.7,327.2 L1634.8,327.2 L1642.1,327.1 L1649.4,327.0 L1656.8,326.9 L1664.3,326.9 L1671.7,326.8 L1679.0,326.7 L1686.3,326.6 L1693.5,326.6 L1700.5,326.5 L1707.3,326.4 L1713.8,326.4 L1720.1,326.3 L1726.1,326.2 L1731.8,326.2 L1737.1,326.2 L1741.9,326.1 L1746.3,326.1 L1750.2,326.0 L1753.6,326.0 L1756.5,326.0 L1758.7,326.0 L1759.5,326.0 L1760.3,327.8 L1761.3,335.0 L1761.5,336.0 L1762.2,341.3 L1763.5,346.9 L1763.5,347.0 L1765.5,348.5 L1767.7,347.0 L1768.2,347.2 L1770.0,350.0 L1771.2,352.6 L1772.6,356.0 L1773.5,358.2 L1775.7,363.8 L1777.5,367.4 L1778.5,369.0 L1782.5,373.8 L1784.0,374.8 L1787.5,376.3 L1793.5,377.8 L1795.4,378.0 L1799.4,378.4 L1805.4,378.8 L1811.4,379.0 L1817.4,379.2 L1820.0,379.3 L1823.4,379.4 L1829.4,379.5 L1835.3,379.5 L1841.3,379.6 L1847.3,379.7 L1853.3,379.7 L1859.3,379.8 L1860.0,379.8 L1865.2,379.9 L1871.2,379.9 L1877.2,380.0 L1883.2,380.1 L1889.2,380.2 L1895.1,380.2 L1901.1,380.3 L1907.1,380.4 L1913.1,380.5 L1919.1,380.6 L1925.0,380.6 L1931.0,380.7 L1937.0,380.8 L1943.0,380.9 L1948.9,381.0 L1950.0,381.0 L1955.1,381.1 L1961.5,381.2 L1968.3,381.3 L1975.3,381.4 L1982.5,381.6 L1989.8,381.7 L1997.2,381.8 L2004.6,382.0 L2012.0,382.1 L2019.2,382.3 L2026.3,382.4 L2033.1,382.5 L2039.6,382.6 L2045.8,382.8 L2051.6,382.9 L2057.0,383.0 L2061.7,383.0 L2066.0,383.1 L2069.5,383.2 L2072.4,383.2 L2074.5,383.2 L2074.5,383.2 L2075.9,379.9 L2076.9,372.7 L2078.0,366.0 L2078.1,365.6 L2079.5,359.8 L2081.0,353.9 L2082.9,348.3 L2083.0,348.0 L2085.5,342.9 L2089.0,338.0 L2089.0,338.0 L2093.6,334.2 L2096.0,333.0 L2099.1,332.0 L2102.6,331.3 L2105.0,331.0 L2111.0,330.3 L2116.9,329.9 L2118.0,329.8 L2122.9,329.5 L2128.9,329.1 L2134.9,328.8 L2140.8,328.5 L2146.8,328.2 L2152.8,328.0 L2157.4,327.9 L2158.8,327.9 L2164.7,327.7 L2170.7,327.6 L2176.7,327.5 L2182.7,327.4 L2188.6,327.3 L2194.6,327.2 L2200.6,327.1 L2206.6,327.0 L2212.6,326.9 L2218.5,326.9 L2224.5,326.8 L2230.5,326.7 L2236.5,326.7 L2242.5,326.6 L2248.4,326.5 L2250.0,326.5 L2254.4,326.5 L2260.4,326.4 L2266.4,326.3 L2272.4,326.3 L2278.3,326.2 L2284.3,326.1 L2290.3,326.1 L2296.3,326.0 L2302.2,325.9 L2308.2,325.9 L2314.2,325.8 L2320.2,325.8 L2326.2,325.7 L2332.1,325.7 L2338.1,325.6 L2344.1,325.6 L2350.1,325.5 L2356.1,325.5 L2362.0,325.5 L2368.0,325.4 L2374.0,325.4" stroke="#1868dc" stroke-width="8"/>
<path d="M1422.0,332.0 L1428.0,332.0 L1433.9,331.9 L1439.9,331.9 L1445.9,331.9 L1451.9,331.9 L1457.8,331.8 L1463.8,331.8 L1469.8,331.8 L1475.8,331.7 L1481.7,331.7 L1487.7,331.7 L1493.7,331.6 L1499.7,331.6 L1505.6,331.6 L1511.6,331.5 L1517.6,331.5 L1523.5,331.5 L1529.5,331.4 L1535.5,331.4 L1541.5,331.4 L1547.4,331.3 L1553.4,331.3 L1559.4,331.3 L1565.4,331.2 L1571.3,331.2 L1577.3,331.1 L1583.3,331.1 L1589.3,331.1 L1595.2,331.0 L1600.0,331.0 L1601.2,331.0 L1607.4,331.0 L1613.9,330.9 L1620.6,330.9 L1627.5,330.8 L1634.6,330.7 L1641.9,330.7 L1649.2,330.6 L1656.6,330.6 L1664.1,330.5 L1671.5,330.5 L1678.8,330.4 L1686.1,330.3 L1693.2,330.3 L1700.2,330.2 L1707.0,330.2 L1713.5,330.1 L1719.7,330.1 L1725.7,330.0 L1731.3,330.0 L1736.4,329.9 L1741.2,329.9 L1745.5,329.9 L1749.3,329.8 L1752.6,329.8 L1755.2,329.8 L1757.3,329.8 L1757.6,329.8 L1758.6,332.8 L1759.7,340.3 L1760.0,342.0 L1760.9,346.9 L1762.8,352.0 L1762.8,352.0 L1765.5,352.6 L1768.4,351.1 L1768.5,351.1 L1770.5,356.0 L1770.6,356.5 L1771.9,362.4 L1772.6,365.0 L1773.7,368.0 L1776.5,373.4 L1777.5,374.8 L1780.4,378.0 L1784.0,380.5 L1785.3,381.0 L1791.2,382.4 L1795.4,382.9 L1797.2,383.0 L1803.1,383.4 L1809.1,383.7 L1815.0,384.0 L1821.0,384.2 L1827.0,384.4 L1833.0,384.6 L1839.0,384.8 L1845.0,384.9 L1850.9,385.0 L1856.9,385.1 L1860.0,385.2 L1862.9,385.3 L1868.9,385.4 L1874.8,385.5 L1880.8,385.6 L1886.8,385.7 L1892.8,385.8 L1898.7,385.9 L1904.7,386.0 L1910.7,386.1 L1916.7,386.2 L1922.6,386.2 L1928.6,386.3 L1934.6,386.4 L1940.5,386.5 L1946.5,386.6 L1950.0,386.6 L1952.5,386.6 L1958.9,386.7 L1965.6,386.8 L1972.6,386.9 L1979.8,387.0 L1987.2,387.1 L1994.6,387.2 L2002.1,387.3 L2009.6,387.4 L2017.0,387.5 L2024.3,387.6 L2031.3,387.7 L2038.0,387.8 L2044.4,387.9 L2050.5,387.9 L2056.0,388.0 L2061.0,388.1 L2065.4,388.1 L2069.2,388.2 L2072.2,388.2 L2074.5,388.2 L2075.4,388.2 L2075.9,387.7 L2076.9,383.3 L2077.6,376.2 L2078.4,368.5 L2079.1,364.1 L2079.5,362.1 L2081.1,356.3 L2083.1,350.6 L2084.0,348.5 L2085.7,345.3 L2089.3,340.4 L2090.9,338.7 L2093.8,336.6 L2096.0,335.5 L2099.3,334.5 L2102.6,333.8 L2105.2,333.4 L2111.2,332.8 L2117.2,332.4 L2118.0,332.4 L2123.1,332.2 L2129.1,332.0 L2135.1,331.8 L2141.0,331.6 L2147.0,331.5 L2153.0,331.4 L2157.4,331.3 L2159.0,331.3 L2164.9,331.2 L2170.9,331.1 L2176.9,331.1 L2182.9,331.0 L2188.8,330.9 L2194.8,330.9 L2200.8,330.8 L2206.7,330.8 L2212.7,330.7 L2218.7,330.7 L2224.7,330.7 L2230.6,330.6 L2236.6,330.6 L2242.6,330.5 L2248.6,330.5 L2250.0,330.5 L2254.5,330.5 L2260.5,330.4 L2266.5,330.4 L2272.5,330.4 L2278.4,330.3 L2284.4,330.3 L2290.4,330.3 L2296.3,330.2 L2302.3,330.2 L2308.3,330.2 L2314.3,330.1 L2320.2,330.1 L2326.2,330.1 L2332.2,330.0 L2338.2,330.0 L2344.1,330.0 L2350.1,330.0 L2356.1,330.0 L2362.1,329.9 L2368.0,329.9 L2374.0,329.9" stroke="#33a867" stroke-width="9.6"/>
</g>
<rect x="1421.85" y="32.6" width="952.5" height="700.35" fill="none" stroke="#000" stroke-width="3.3"/>
<line x1="1421.85" y1="732.95" x2="1421.85" y2="745.85" stroke="#000" stroke-width="3.3"/>
<line x1="1485.35" y1="732.95" x2="1485.35" y2="739.25" stroke="#000" stroke-width="3.3"/>
<line x1="1548.85" y1="732.95" x2="1548.85" y2="745.85" stroke="#000" stroke-width="3.3"/>
<line x1="1612.35" y1="732.95" x2="1612.35" y2="739.25" stroke="#000" stroke-width="3.3"/>
<line x1="1675.85" y1="732.95" x2="1675.85" y2="745.85" stroke="#000" stroke-width="3.3"/>
<line x1="1739.35" y1="732.95" x2="1739.35" y2="739.25" stroke="#000" stroke-width="3.3"/>
<line x1="1802.85" y1="732.95" x2="1802.85" y2="745.85" stroke="#000" stroke-width="3.3"/>
<line x1="1866.35" y1="732.95" x2="1866.35" y2="739.25" stroke="#000" stroke-width="3.3"/>
<line x1="1929.85" y1="732.95" x2="1929.85" y2="745.85" stroke="#000" stroke-width="3.3"/>
<line x1="1993.35" y1="732.95" x2="1993.35" y2="739.25" stroke="#000" stroke-width="3.3"/>
<line x1="2056.85" y1="732.95" x2="2056.85" y2="745.85" stroke="#000" stroke-width="3.3"/>
<line x1="2120.35" y1="732.95" x2="2120.35" y2="739.25" stroke="#000" stroke-width="3.3"/>
<line x1="2183.85" y1="732.95" x2="2183.85" y2="745.85" stroke="#000" stroke-width="3.3"/>
<line x1="2247.35" y1="732.95" x2="2247.35" y2="739.25" stroke="#000" stroke-width="3.3"/>
<line x1="2310.85" y1="732.95" x2="2310.85" y2="745.85" stroke="#000" stroke-width="3.3"/>
<line x1="2374.35" y1="732.95" x2="2374.35" y2="739.25" stroke="#000" stroke-width="3.3"/>
<line x1="1421.85" y1="732.95" x2="1408.4499999999998" y2="732.95" stroke="#000" stroke-width="3.3"/>
<line x1="1421.85" y1="608.84" x2="1414.55" y2="608.84" stroke="#000" stroke-width="3.3"/>
<line x1="1421.85" y1="536.23" x2="1414.55" y2="536.23" stroke="#000" stroke-width="3.3"/>
<line x1="1421.85" y1="484.72" x2="1414.55" y2="484.72" stroke="#000" stroke-width="3.3"/>
<line x1="1421.85" y1="444.76" x2="1414.55" y2="444.76" stroke="#000" stroke-width="3.3"/>
<line x1="1421.85" y1="412.12" x2="1414.55" y2="412.12" stroke="#000" stroke-width="3.3"/>
<line x1="1421.85" y1="384.52" x2="1414.55" y2="384.52" stroke="#000" stroke-width="3.3"/>
<line x1="1421.85" y1="360.61" x2="1414.55" y2="360.61" stroke="#000" stroke-width="3.3"/>
<line x1="1421.85" y1="339.52" x2="1414.55" y2="339.52" stroke="#000" stroke-width="3.3"/>
<line x1="1421.85" y1="320.65" x2="1408.4499999999998" y2="320.65" stroke="#000" stroke-width="3.3"/>
<line x1="1421.85" y1="196.54" x2="1414.55" y2="196.54" stroke="#000" stroke-width="3.3"/>
<line x1="1421.85" y1="123.93" x2="1414.55" y2="123.93" stroke="#000" stroke-width="3.3"/>
<line x1="1421.85" y1="72.42" x2="1414.55" y2="72.42" stroke="#000" stroke-width="3.3"/>
<line x1="1421.85" y1="32.46" x2="1414.55" y2="32.46" stroke="#000" stroke-width="3.3"/>
<text x="1421.8" y="793.3" font-size="50" text-anchor="middle">0</text>
<text x="1548.8" y="793.3" font-size="50" text-anchor="middle">20</text>
<text x="1675.8" y="793.3" font-size="50" text-anchor="middle">40</text>
<text x="1802.8" y="793.3" font-size="50" text-anchor="middle">60</text>
<text x="1929.8" y="793.3" font-size="50" text-anchor="middle">80</text>
<text x="2056.8" y="793.3" font-size="50" text-anchor="middle">100</text>
<text x="2183.8" y="793.3" font-size="50" text-anchor="middle">120</text>
<text x="2310.8" y="793.3" font-size="50" text-anchor="middle">140</text>
<text x="1332.3" y="339.9" font-size="50">10<tspan font-size="36" dy="-21.2">7</tspan></text>
<text x="1332.3" y="752.2" font-size="50">10<tspan font-size="36" dy="-21.2">6</tspan></text>
<text x="1898.1" y="880.6" font-size="57.5" text-anchor="middle">Time (s)</text>
<text transform="translate(1312.4,381.2) rotate(-90)" font-size="57.5" text-anchor="middle">Resistance (Ω)</text>
<text x="1436.7" y="91.6" font-size="51">(b)</text>
<line x1="1463.0" y1="164.6" x2="1560.2" y2="164.6" stroke="#4d4d4d" stroke-width="6.8" stroke-linecap="round"/>
<text transform="translate(1573.3,179.3) scale(0.9475,1)" font-size="44.5">100°C</text>
<line x1="1679.4" y1="164.6" x2="1776.6" y2="164.6" stroke="#ee3a3c" stroke-width="6.8" stroke-linecap="round"/>
<text transform="translate(1786.7,179.3) scale(0.9475,1)" font-size="44.5">200°C</text>
<line x1="1895.8" y1="164.6" x2="1993.0" y2="164.6" stroke="#1868dc" stroke-width="6.8" stroke-linecap="round"/>
<text transform="translate(2003.1,179.3) scale(0.9475,1)" font-size="44.5">300°C</text>
<line x1="2112.2" y1="164.6" x2="2209.4" y2="164.6" stroke="#33a867" stroke-width="6.8" stroke-linecap="round"/>
<text transform="translate(2219.5,179.3) scale(0.9475,1)" font-size="44.5">400°C</text>
</svg>
</body></html>
